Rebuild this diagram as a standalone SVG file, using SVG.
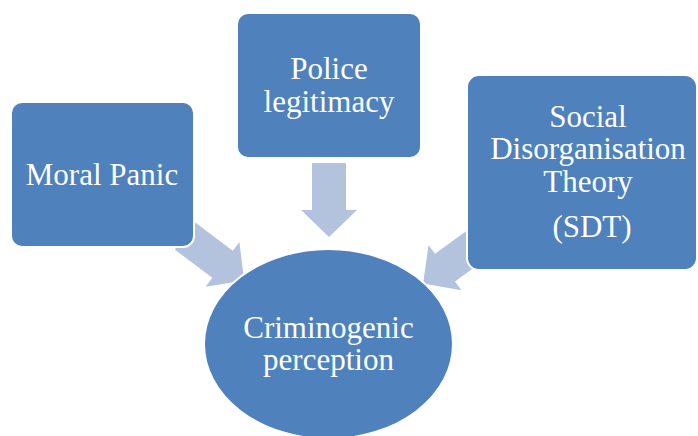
<svg xmlns="http://www.w3.org/2000/svg" width="698" height="436" viewBox="0 0 698 436">
<style>
.node{fill:#4f81bd;stroke:#ffffff;stroke-width:2}
.arrow{fill:#b3c3de}
.lbl{font-family:'Liberation Serif',Tinos,'Times New Roman',Times,'DejaVu Serif',serif;font-size:31px;fill:#ffffff;text-anchor:middle}
</style>
<defs>
<polygon id="arr" points="0,-17 47,-17 47,-28 74,0 47,28 47,17 0,17"/>
</defs>
<rect width="698" height="436" fill="#ffffff"/>
<g id="connectors">
<use href="#arr" class="arrow" transform="translate(185,236) rotate(37)"/>
<use href="#arr" class="arrow" transform="translate(329,163) rotate(90)"/>
<use href="#arr" class="arrow" transform="translate(483,240) rotate(144)"/>
</g>
<g id="moral-panic">
<rect class="node" x="11" y="102" width="183" height="145" rx="11"/>
<text class="lbl" x="102" y="185">Moral Panic</text>
</g>
<g id="police-legitimacy">
<rect class="node" x="237" y="13" width="184" height="145" rx="11"/>
<text class="lbl" x="329" y="79">Police</text>
<text class="lbl" x="329" y="112">legitimacy</text>
</g>
<g id="sdt">
<rect class="node" x="467" y="75" width="230" height="195" rx="12"/>
<text class="lbl" x="588" y="127">Social</text>
<text class="lbl" x="588" y="159">Disorganisation</text>
<text class="lbl" x="588" y="192">Theory</text>
<text class="lbl" x="592" y="237">(SDT)</text>
</g>
<g id="criminogenic-perception">
<ellipse class="node" cx="328.5" cy="344" rx="124.5" ry="95"/>
<text class="lbl" x="328.5" y="338">Criminogenic</text>
<text class="lbl" x="328.5" y="370">perception</text>
</g>
</svg>
